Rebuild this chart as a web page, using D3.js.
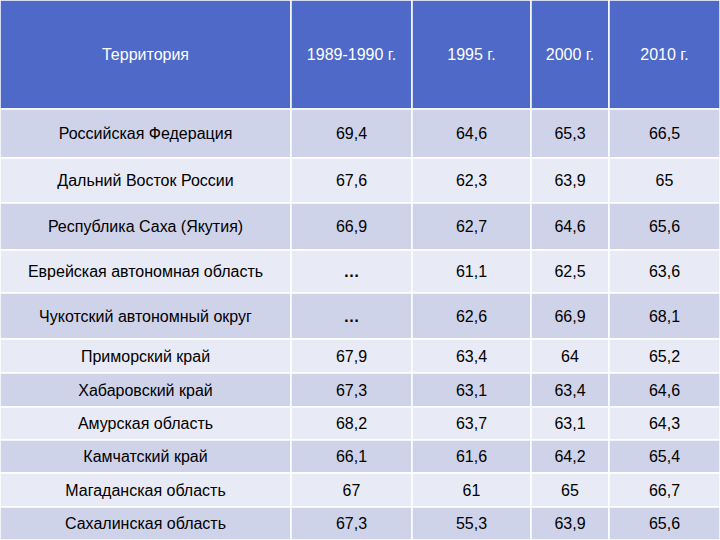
<!DOCTYPE html>
<html><head><meta charset="utf-8">
<script src="https://cdn.jsdelivr.net/npm/d3@7"></script>
<style>body{margin:0;background:#fff}</style>
</head><body>
<svg id="chart" width="720" height="540"></svg>
<script>
var headers = ['Территория', '1989-1990 г.', '1995 г.', '2000 г.', '2010 г.'];
var regions = ['Российская Федерация', 'Дальний Восток России', 'Республика Саха (Якутия)',
  'Еврейская автономная область', 'Чукотский автономный округ', 'Приморский край',
  'Хабаровский край', 'Амурская область', 'Камчатский край', 'Магаданская область', 'Сахалинская область'];
var y1990 = ['69,4', '67,6', '66,9', '…', '…', '67,9', '67,3', '68,2', '66,1', '67', '67,3'];
var y1995 = ['64,6', '62,3', '62,7', '61,1', '62,6', '63,4', '63,1', '63,7', '61,6', '61', '55,3'];
var y2000 = ['65,3', '63,9', '64,6', '62,5', '66,9', '64', '63,4', '63,1', '64,2', '65', '63,9'];
var y2010 = ['66,5', '65', '65,6', '63,6', '68,1', '65,2', '64,6', '64,3', '65,4', '66,7', '65,6'];

// column edges and row edges of the table
var colEdges = [0, 291, 412, 531, 609, 720];
var rowEdges = [0, 109, 158, 203, 250, 293, 339, 373, 407, 440, 473, 507, 540];

var svg = d3.select('#chart');
var font = '"Liberation Sans", Arial, sans-serif';

var rows = [headers].concat(regions.map(function(r, i) {
  return [r, y1990[i], y2000 ? y1995[i] : '', y2000[i], y2010[i]];
}));

rows.forEach(function(row, ri) {
  var fill = ri === 0 ? '#4E69C8' : (ri % 2 === 1 ? '#CFD3EA' : '#E8EAF5');
  var g = svg.append('g');
  row.forEach(function(txt, ci) {
    var x0 = colEdges[ci], x1 = colEdges[ci + 1], y0 = rowEdges[ri], y1 = rowEdges[ri + 1];
    g.append('rect')
      .attr('x', x0).attr('y', y0)
      .attr('width', x1 - x0).attr('height', y1 - y0)
      .attr('fill', fill).attr('stroke', '#fff').attr('stroke-width', 1.5);
    g.append('text')
      .attr('x', (x0 + x1) / 2).attr('y', (y0 + y1) / 2)
      .attr('text-anchor', 'middle').attr('dominant-baseline', 'central')
      .attr('font-family', font).attr('font-size', 16)
      .attr('font-weight', txt === '…' ? 'bold' : 'normal')
      .attr('fill', ri === 0 ? '#fff' : '#000')
      .text(txt);
  });
});
</script>
</body></html>
